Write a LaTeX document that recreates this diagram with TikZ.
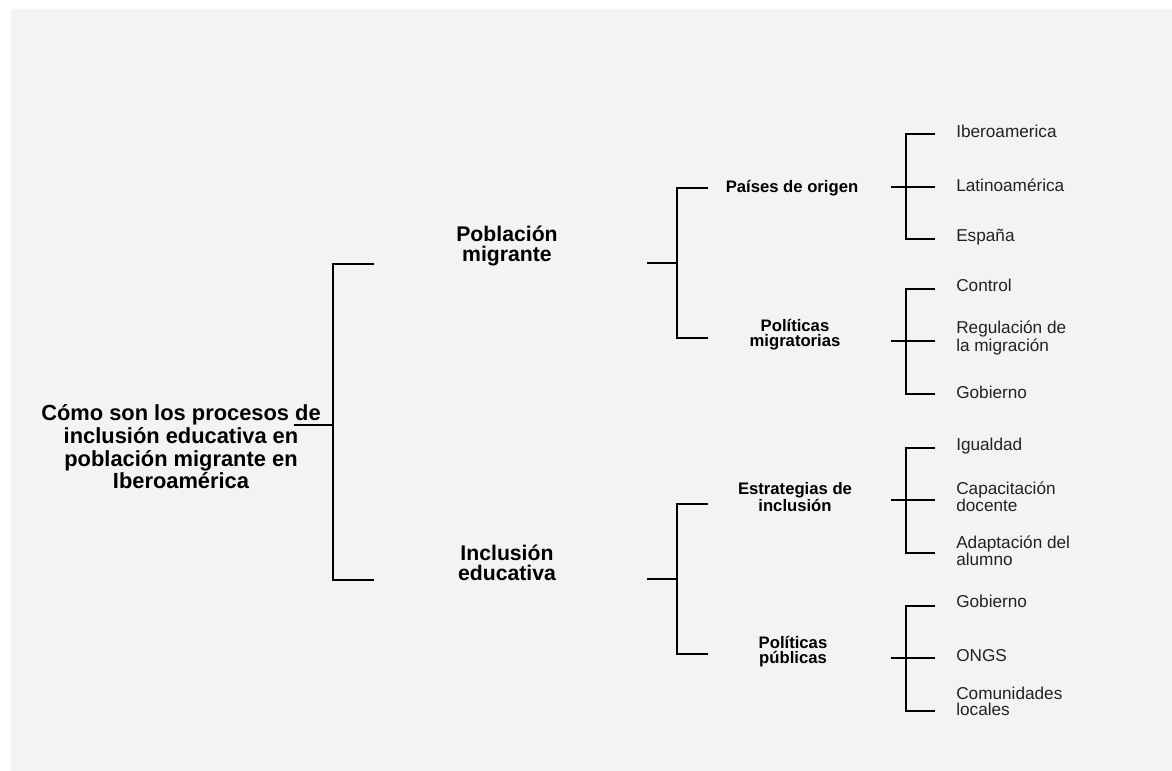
\documentclass[tikz,border=0pt]{standalone}
\usepackage{fontspec}
\setmainfont{Liberation Sans}
\definecolor{panel}{HTML}{F3F3F3}
\definecolor{leaf}{HTML}{222222}
\tikzset{
  conn/.style={draw=black, line width=1.45pt, line cap=rect},
  rootbox/.style={align=center, inner sep=0pt, font=\fontsize{16.4}{17}\selectfont\bfseries},
  lvlone/.style={align=center, inner sep=0pt, font=\fontsize{15.9}{15}\selectfont\bfseries},
  lvltwo/.style={align=center, inner sep=0pt, font=\fontsize{12.5}{11.3}\selectfont\bfseries},
  leafbox/.style={align=left, anchor=west, inner sep=0pt, text=leaf, font=\fontsize{12.9}{12}\selectfont},
}
\begin{document}
\begin{tikzpicture}[x=0.75pt,y=-0.75pt]
\useasboundingbox (0,0) rectangle (1172,771);
\fill[white] (0,0) rectangle (1172,771);
\fill[panel] (11,9) rectangle (1172,771);

% nodes
\node[rootbox] (root) at (181,447) {Cómo son los procesos de\\inclusión educativa en\\población migrante en\\Iberoamérica};
\node[lvlone] (pob) at (507,246) {Población\\migrante};
\node[lvlone] (inc) at (507,563) {Inclusión\\educativa};
\node[lvltwo] (pai) at (792,188) {Países de origen};
\node[lvltwo] (pmi) at (795,335) {Políticas\\migratorias};
\node[lvltwo] (est) at (795,497) {Estrategias de\\inclusión};
\node[lvltwo] (ppu) at (793,652) {Políticas\\públicas};

\node[leafbox] (l1) at (956,131) {Iberoamerica};
\node[leafbox] (l2) at (956,185) {Latinoamérica};
\node[leafbox] (l3) at (956,237) {España};
\node[leafbox] (l4) at (956,285) {Control};
\node[leafbox] (l5) at (956,338) {Regulación de\\la migración};
\node[leafbox] (l6) at (956,392) {Gobierno};
\node[leafbox] (l7) at (956,446) {Igualdad};
\node[leafbox] (l8) at (956,497) {Capacitación\\docente};
\node[leafbox] (l9) at (956,551) {Adaptación del\\alumno};
\node[leafbox] (l10) at (956,601) {Gobierno};
\node[leafbox] (l11) at (956,656) {ONGS};
\node[leafbox] (l12) at (956,701) {Comunidades\\locales};

% level 1 bracket
\coordinate (rs) at (295,425);
\coordinate (rv) at (333,425);
\coordinate (pobe) at (373,264);
\coordinate (ince) at (373,580);
\draw[conn] (rs) -- (rv);
\draw[conn] (pobe) -- ++(-40,0) |- (ince);

% level 2 brackets
\coordinate (pobs) at (648,263);
\coordinate (paie) at (707,188);
\coordinate (pmie) at (707,338);
\draw[conn] (pobs) -- ++(29,0);
\draw[conn] (paie) -- ++(-30,0) |- (pmie);

\coordinate (incs) at (648,579);
\coordinate (este) at (707,504);
\coordinate (ppue) at (707,654);
\draw[conn] (incs) -- ++(29,0);
\draw[conn] (este) -- ++(-30,0) |- (ppue);

% level 3 brackets
\foreach \t/\m/\b in {134/187/239, 289/341/394, 448/500/553, 606/658/711}{
  \coordinate (s) at (892,\m);
  \coordinate (te) at (934,\t);
  \coordinate (me) at (934,\m);
  \coordinate (be) at (934,\b);
  \draw[conn] (s) -- (me);
  \draw[conn] (te) -- ++(-28,0) |- (be);
}
\end{tikzpicture}
\end{document}
